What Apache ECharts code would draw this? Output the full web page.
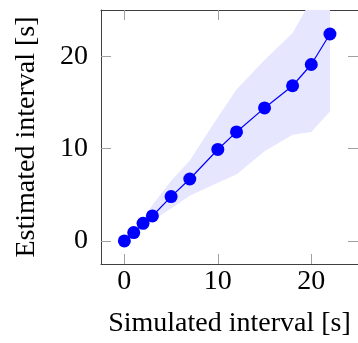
<!DOCTYPE html>
<html>
<head>
<meta charset="utf-8">
<script src="https://cdn.jsdelivr.net/npm/echarts@6/dist/echarts.min.js"></script>
<style>
  html, body { margin: 0; padding: 0; background: #fff; }
  #chart { width: 358px; height: 343px; }
</style>
</head>
<body>
<div id="chart"></div>
<script>
// simulated vs estimated interval
const simulated = [0, 1, 2, 3, 5, 7, 10, 12, 15, 18, 20, 22];
const estimated = [0, 0.9, 1.9, 2.7, 4.8, 6.7, 9.9, 11.8, 14.4, 16.8, 19.1, 22.4];
const bandLower = [0, 0.8, 1.6, 2.2, 3.5, 4.9, 6.3, 7.2, 9.7, 11.5, 11.8, 14.0];
const bandUpper = [0, 1.1, 2.3, 3.9, 6.5, 8.7, 13.4, 16.4, 19.6, 22.5, 26.1, 29.0];
const xTicks = [0, 10, 20];
const yTicks = [0, 10, 20];

const chart = echarts.init(document.getElementById('chart'));

const font = 'Liberation Serif';
const frame = '#404040';
const tickColor = '#a0a0a0';

let bandData = simulated.map((x, i) => [x, bandLower[i], bandUpper[i]]);
let mainData = simulated.map((x, i) => [x, estimated[i]]);

function axisBase(show, pos, ticks) {
  return {
    type: 'value',
    position: pos,
    min: -2.5,
    max: 25,
    splitLine: { show: false },
    axisLine: { show: true, onZero: false, lineStyle: { color: frame, width: 1 } },
    axisTick: { show: true, inside: true, length: 10, customValues: ticks, lineStyle: { color: tickColor } },
    axisLabel: { show: show, customValues: ticks, fontFamily: font, fontSize: 28, color: '#000' }
  };
}

let xBottom = axisBase(true, 'bottom', xTicks);
xBottom.name = 'Simulated interval [s]';
xBottom.nameLocation = 'middle';
xBottom.nameGap = 46;
xBottom.nameTextStyle = { fontFamily: font, fontSize: 28, color: '#000' };
xBottom.axisLabel.margin = 4;

let yLeft = axisBase(true, 'left', yTicks);
yLeft.name = 'Estimated interval [s]';
yLeft.nameLocation = 'middle';
yLeft.nameGap = 60;
yLeft.nameTextStyle = { fontFamily: font, fontSize: 28, color: '#000' };
yLeft.axisLabel.margin = 13;

let xTop = axisBase(false, 'top', xTicks);
let yRight = axisBase(false, 'right', yTicks);

// band polygon: upper edge left->right, lower edge back
function renderBand(params, api) {
  if (params.dataIndex !== 0) return;
  let pts = [];
  for (let i = 0; i < bandData.length; i++) {
    pts.push(api.coord([bandData[i][0], bandData[i][2]]));
  }
  for (let i = bandData.length - 1; i >= 0; i--) {
    pts.push(api.coord([bandData[i][0], bandData[i][1]]));
  }
  return {
    type: 'polygon',
    shape: { points: pts },
    style: { fill: '#e6e6ff' }
  };
}

var option = {
  animation: false,
  grid: { left: 101, top: 10, width: 259, height: 258 },
  xAxis: [xBottom, xTop],
  yAxis: [yLeft, yRight],
  series: [
    {
      type: 'custom',
      data: bandData,
      encode: { x: 0, y: [1, 2] },
      renderItem: renderBand,
      clip: true,
      silent: true,
      z: 1
    },
    {
      type: 'line',
      data: mainData,
      symbol: 'circle',
      symbolSize: 13,
      showAllSymbol: true,
      itemStyle: { color: '#0000ff' },
      lineStyle: { color: '#0000ff', width: 1.2 },
      z: 5
    }
  ]
};

chart.setOption(option);
</script>
</body>
</html>
